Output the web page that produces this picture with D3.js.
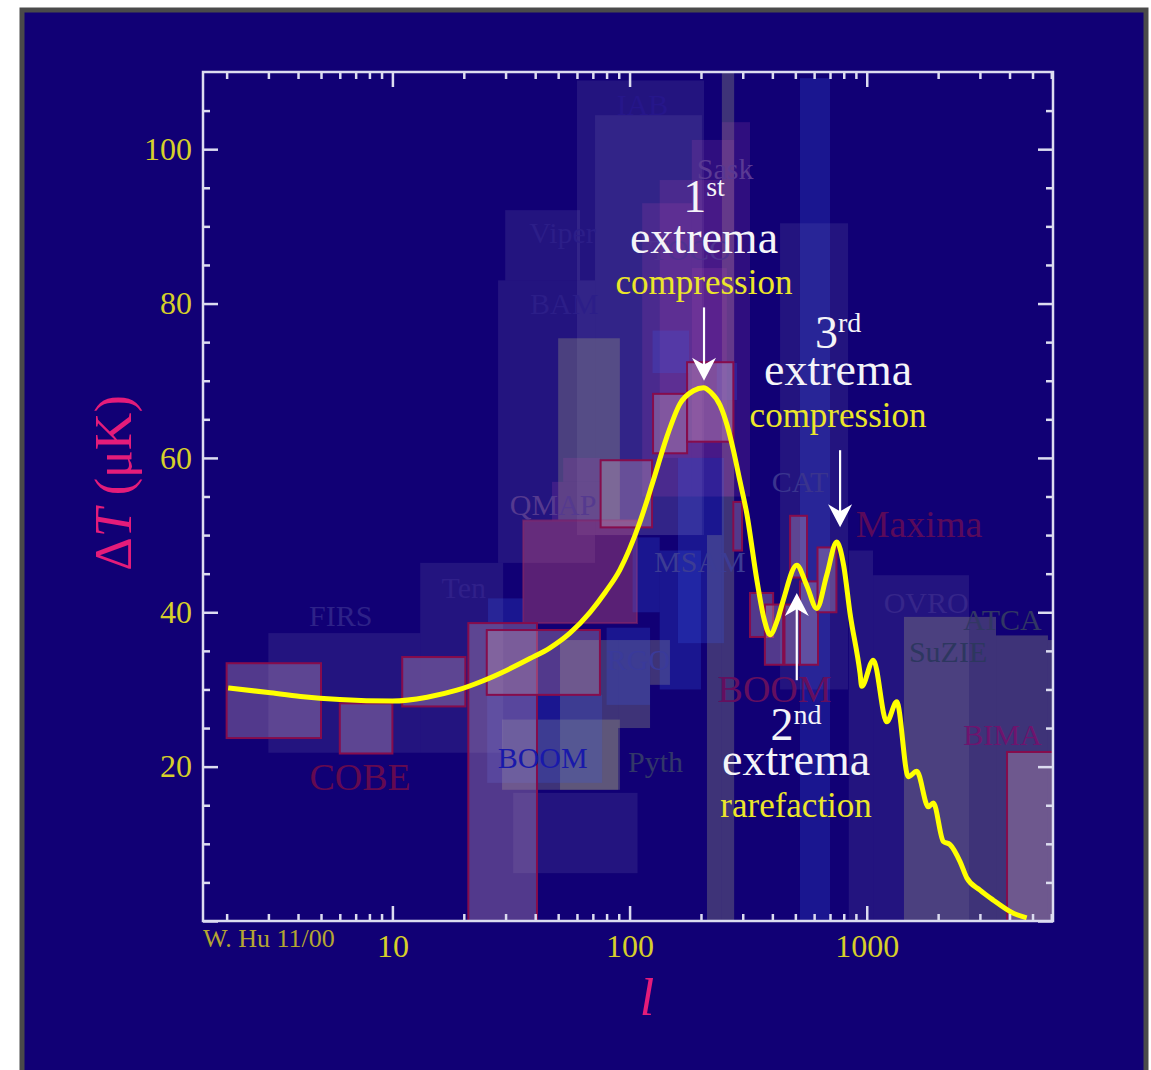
<!DOCTYPE html>
<html>
<head>
<meta charset="utf-8">
<script src="https://cdn.jsdelivr.net/npm/d3@7"></script>
<style>
  body { margin: 0; background: #fff; }
  svg { display: block; }
  text { font-family: "Liberation Serif", "DejaVu Serif", serif; }
</style>
</head>
<body>
<div id="chart"></div>
<script>
// model curve: multipole l vs temperature anisotropy (uK)
const curveL = [2.03, 3, 4.1, 6, 10, 14, 18.7, 24, 30.4, 38, 46.2, 56, 68.1, 79, 91, 110, 126, 143.5, 163, 186,
  205, 220, 241, 258, 274, 292, 312, 344, 370, 391, 420, 444, 507, 558, 616, 678, 747, 800, 850, 937, 952, 1066,
  1214, 1338, 1497, 1625, 1818, 1909, 2103, 2245, 2474, 2640, 3003, 3418, 4150, 4726];
const curveT = [30.2, 29.6, 29.1, 28.7, 28.5, 29.0, 29.9, 31.1, 32.5, 34.0, 35.4, 37.3, 40.0, 42.6, 45.5, 51.5, 57.1, 62.7, 67.0, 68.7,
  69.1, 68.5, 66.8, 64.2, 61.0, 57.0, 52.8, 44.2, 39.0, 37.1, 39.0, 41.5, 46.1, 43.5, 40.5, 44.8, 49.1, 46.0, 39.9, 32.1, 30.4, 33.8,
  25.8, 28.4, 18.7, 19.4, 14.8, 15.3, 10.3, 9.9, 7.7, 5.6, 4.0, 2.7, 1.0, 0.4];

// experiment error boxes: [lMin, lMax, tMin, tMax]
const faintBoxes = [
  [3, 13.1, 21.8, 37.3], [13.1, 29.3, 21.8, 46.4], [27.9, 71.5, 46.4, 83], [29.9, 61.8, 83, 92.1],
  [60, 206, 50, 108.9], [71.5, 202, 50, 104.4], [1063, 2698, 0, 44.8], [431, 834, 30, 90.4],
  [840, 1063, 0, 48], [32.3, 108, 6.2, 16.6]
];
const greyBoxes = [
  [50, 91, 52, 75.5], [1435, 3508, 0, 39.4], [3508, 5808, 0, 37], [5808, 6100, 0, 36.4],
  [245, 276, 0, 110], [212, 245, 0, 50], [50.9, 89.4, 17, 36.4], [89.4, 122, 25, 36.4],
  [122, 148, 30.6, 36.4], [29, 91, 17, 26.1]
];
const purpleBoxes = [
  [52.5, 75.1, 56.9, 60], [47.1, 75.1, 51.9, 56.9], [245, 322, 55, 103.5], [183, 276, 55, 101.2],
  [134, 245, 60, 96], [113, 183, 55, 93], [183, 257, 62, 84.6]
];
const pinkBoxes = [[35.6, 107.5, 38.6, 51.9]];
const blueBoxes = [
  [25.1, 76.6, 17.9, 29.3], [523, 700, 0, 109.2], [25.3, 35.5, 38.7, 41.8], [103, 134, 40, 49.7],
  [125, 178, 71, 76.5], [233, 284, 67.5, 72.3], [134, 200, 30, 48], [160, 250, 36, 60], [80, 122, 28, 38]
];
const outlinedBoxes = [
  [2.0, 5.0, 23.7, 33.4], [6.0, 10.0, 21.7, 28.2], [11.0, 20.3, 27.8, 34.2], [20.9, 40.7, 0, 38.6],
  [25.0, 75.0, 29.3, 37.7], [75.5, 124.4, 51.0, 59.7], [125.6, 174.8, 60.6, 68.3], [174.8, 273.9, 62.1, 72.4],
  [273.9, 298.1, 48.0, 54.3], [322, 403, 36.8, 42.5], [372, 444, 33.2, 41.0], [450, 523, 33.2, 41.0],
  [475, 560, 44.5, 52.5], [523, 623, 33.2, 44.0], [620, 745, 40.0, 48.4], [3904, 6100, 0, 21.9]
];

// experiment names and where they sit (l, T of baseline centre)
const expNames = ['COBE', 'FIRS', 'Ten', 'QMAP', 'BAM', 'Viper', 'IAB', 'Sask', 'TOCO', 'CAT', 'MSAM',
  'Maxima', 'OVRO', 'ATCA', 'SuZIE', 'BIMA', 'RGO', 'BOOM', 'BOOM', 'Pyth'];
const expL = [7.31, 6.05, 20.0, 47.6, 53, 52.2, 113.4, 252.7, 180, 523, 198,
  1661, 1780, 3736, 2202, 3736, 109, 408.7, 43, 128.7];
const expT = [17.0, 38.2, 41.8, 52.6, 78.7, 87.9, 104.4, 96.2, 85.6, 55.6, 45.2,
  49.8, 39.9, 37.7, 33.6, 22.8, 32.5, 28.4, 19.8, 19.3];

// annotations
const annotOrdinal = ['1', '3', '2'];
const annotSup = ['st', 'rd', 'nd'];
const annotKind = ['compression', 'compression', 'rarefaction'];
const annotL = [206, 757, 503.5];
const annotOrdT = [91.8, 74.2, 23.5];
const annotWordT = [86.5, 69.4, 18.9];
const annotKindT = [81.3, 64.0, 13.5];
const arrowL = [206, 772, 507];
const arrowFromT = [79.5, 61.0, 31.2];
const arrowToT = [70.0, 51.0, 42.5];

// ticks
const xMajorTicks = [10, 100, 1000];
const xMinorTicks = [2, 3, 4, 5, 6, 7, 8, 9, 20, 30, 40, 50, 60, 70, 80, 90,
  200, 300, 400, 500, 600, 700, 800, 900, 2000, 3000, 4000, 5000, 6000];
const yMajorTicks = [0, 20, 40, 60, 80, 100];
const yMinorTicks = [5, 10, 15, 25, 30, 35, 45, 50, 55, 65, 70, 75, 85, 90, 95, 105];

const W = 1151, H = 1070;
const plot = { left: 203, right: 1053, top: 72, bottom: 921 };
const navy = '#110075';
const frameColor = '#dcdcf0';
const tickYellow = '#d6cf2a';
const magenta = '#e41c7a';

const x = d3.scaleLog().domain([1.59, 6100]).range([plot.left, plot.right]);
const y = d3.scaleLinear().domain([0, 110]).range([plot.bottom, plot.top]);

const svg = d3.select('#chart').append('svg').attr('width', W).attr('height', H);

svg.append('rect')
  .attr('x', 22).attr('y', 10).attr('width', 1124).attr('height', H)
  .attr('fill', navy).attr('stroke', '#4a4a4a').attr('stroke-width', 5);

svg.append('defs').append('clipPath').attr('id', 'plotClip')
  .append('rect')
  .attr('x', plot.left).attr('y', plot.top)
  .attr('width', plot.right - plot.left).attr('height', plot.bottom - plot.top);

const boxes = svg.append('g').attr('clip-path', 'url(#plotClip)');

function drawBoxes(list, fill, opacity, stroke) {
  boxes.append('g').selectAll('rect').data(list).enter().append('rect')
    .attr('x', d => x(d[0]))
    .attr('width', d => x(d[1]) - x(d[0]))
    .attr('y', d => y(d[3]))
    .attr('height', d => y(d[2]) - y(d[3]))
    .attr('fill', fill).attr('fill-opacity', opacity)
    .attr('stroke', stroke || 'none').attr('stroke-width', stroke ? 2 : 0);
}

drawBoxes(faintBoxes, 'rgb(120,110,180)', 0.18);
drawBoxes(greyBoxes, 'rgb(170,170,130)', 0.3);
drawBoxes(purpleBoxes, 'rgb(170,70,170)', 0.2);
drawBoxes(pinkBoxes, 'rgb(220,90,120)', 0.36, 'rgba(150,40,100,0.5)');
drawBoxes(blueBoxes, 'rgb(60,90,230)', 0.24);
drawBoxes(outlinedBoxes, 'rgb(190,150,180)', 0.38, '#860c4c');

// experiment labels
const expStyle = {
  COBE: ['#640a50', 38], FIRS: ['#2e2288', 30], Ten: ['#30208a', 30], QMAP: ['#553a8f', 30],
  BAM: ['#2c1e88', 30], Viper: ['#2c1e88', 30], IAB: ['#26168a', 30], Sask: ['#5a3a94', 30],
  TOCO: ['#4e3290', 30], CAT: ['#3a348e', 30], MSAM: ['#3c3c94', 30], Maxima: ['#5a0a5a', 38],
  OVRO: ['#36268a', 30], ATCA: ['#323764', 30], SuZIE: ['#2d375f', 30], BIMA: ['#6e146e', 30],
  RGO: ['#3a3a9a', 30], Pyth: ['#323769', 30]
};
boxes.append('g').selectAll('text').data(expNames).enter().append('text')
  .attr('x', (d, i) => x(expL[i]))
  .attr('y', (d, i) => y(expT[i]))
  .attr('text-anchor', 'middle')
  .attr('fill', (d, i) => d === 'BOOM' ? (i === 17 ? '#640f5f' : '#1919aa') : expStyle[d][0])
  .attr('font-size', (d, i) => d === 'BOOM' ? (i === 17 ? 38 : 30) : expStyle[d][1])
  .text(d => d);

// model curve
const line = d3.line()
  .x(d => x(d[0]))
  .y(d => y(d[1]))
  .curve(d3.curveMonotoneX);
boxes.append('path')
  .datum(curveL.map((l, i) => [l, curveT[i]]))
  .attr('d', line)
  .attr('fill', 'none')
  .attr('stroke', '#ffff00')
  .attr('stroke-width', 5)
  .attr('stroke-linejoin', 'round');

// frame and ticks
svg.append('rect')
  .attr('x', plot.left).attr('y', plot.top)
  .attr('width', plot.right - plot.left).attr('height', plot.bottom - plot.top)
  .attr('fill', 'none').attr('stroke', frameColor).attr('stroke-width', 2.5);

function styleAxis(g) {
  g.select('.domain').remove();
  g.selectAll('line').attr('stroke', frameColor).attr('stroke-width', 2.5);
  g.selectAll('text')
    .attr('fill', tickYellow)
    .attr('font-size', 32)
    .attr('font-family', '"Liberation Serif", serif');
}

const noLabel = () => '';
svg.append('g').attr('transform', `translate(0,${plot.bottom})`)
  .call(d3.axisBottom(x).tickValues(xMajorTicks).tickSize(-15).tickPadding(13).tickFormat(d3.format('d')))
  .call(styleAxis);
svg.append('g').attr('transform', `translate(0,${plot.bottom})`)
  .call(d3.axisBottom(x).tickValues(xMinorTicks).tickSize(-7).tickFormat(noLabel))
  .call(styleAxis);
svg.append('g').attr('transform', `translate(0,${plot.top})`)
  .call(d3.axisTop(x).tickValues(xMajorTicks).tickSize(-15).tickFormat(noLabel))
  .call(styleAxis);
svg.append('g').attr('transform', `translate(0,${plot.top})`)
  .call(d3.axisTop(x).tickValues(xMinorTicks).tickSize(-7).tickFormat(noLabel))
  .call(styleAxis);
svg.append('g').attr('transform', `translate(${plot.left},0)`)
  .call(d3.axisLeft(y).tickValues(yMajorTicks).tickSize(-15).tickPadding(11)
    .tickFormat(d => d === 0 ? '' : d))
  .call(styleAxis);
svg.append('g').attr('transform', `translate(${plot.left},0)`)
  .call(d3.axisLeft(y).tickValues(yMinorTicks).tickSize(-7).tickFormat(noLabel))
  .call(styleAxis);
svg.append('g').attr('transform', `translate(${plot.right},0)`)
  .call(d3.axisRight(y).tickValues(yMajorTicks).tickSize(-15).tickFormat(noLabel))
  .call(styleAxis);
svg.append('g').attr('transform', `translate(${plot.right},0)`)
  .call(d3.axisRight(y).tickValues(yMinorTicks).tickSize(-7).tickFormat(noLabel))
  .call(styleAxis);

// credit
svg.append('text')
  .attr('x', plot.left).attr('y', 947)
  .attr('fill', '#b5a632').attr('font-size', 26)
  .text('W. Hu 11/00');

// axis titles
const yTitle = svg.append('text')
  .attr('transform', 'translate(131,483) rotate(-90)')
  .attr('text-anchor', 'middle')
  .attr('fill', magenta).attr('font-size', 52);
yTitle.append('tspan').text('\u0394');
yTitle.append('tspan').attr('font-style', 'italic').text('T');
yTitle.append('tspan').text(' (\u03bcK)');

svg.append('text')
  .attr('x', 647).attr('y', 1015)
  .attr('text-anchor', 'middle')
  .attr('fill', magenta).attr('font-size', 52).attr('font-style', 'italic')
  .text('l');

// extrema annotations
const notes = svg.append('g');
annotOrdinal.forEach((ord, i) => {
  const cx = x(annotL[i]);
  const t = notes.append('text')
    .attr('x', cx).attr('y', y(annotOrdT[i]))
    .attr('text-anchor', 'middle').attr('fill', '#f4f4f8').attr('font-size', 46);
  t.append('tspan').text(ord);
  t.append('tspan').attr('font-size', 28).attr('dy', -16).text(annotSup[i]);
  notes.append('text')
    .attr('x', cx).attr('y', y(annotWordT[i]))
    .attr('text-anchor', 'middle').attr('fill', '#f4f4f8').attr('font-size', 46)
    .text('extrema');
  notes.append('text')
    .attr('x', cx).attr('y', y(annotKindT[i]))
    .attr('text-anchor', 'middle').attr('fill', '#ece62a').attr('font-size', 35)
    .text(annotKind[i]);

  const ax = x(arrowL[i]);
  const y0 = y(arrowFromT[i]);
  const y1 = y(arrowToT[i]);
  const dir = y1 > y0 ? 1 : -1;
  notes.append('line')
    .attr('x1', ax).attr('x2', ax)
    .attr('y1', y0).attr('y2', y1 - dir * 14)
    .attr('stroke', '#ffffff').attr('stroke-width', 2.2);
  notes.append('path')
    .attr('d', `M${ax},${y1} L${ax - 12},${y1 - dir * 23} L${ax},${y1 - dir * 16} L${ax + 12},${y1 - dir * 23} Z`)
    .attr('fill', '#ffffff');
});
</script>
</body>
</html>
